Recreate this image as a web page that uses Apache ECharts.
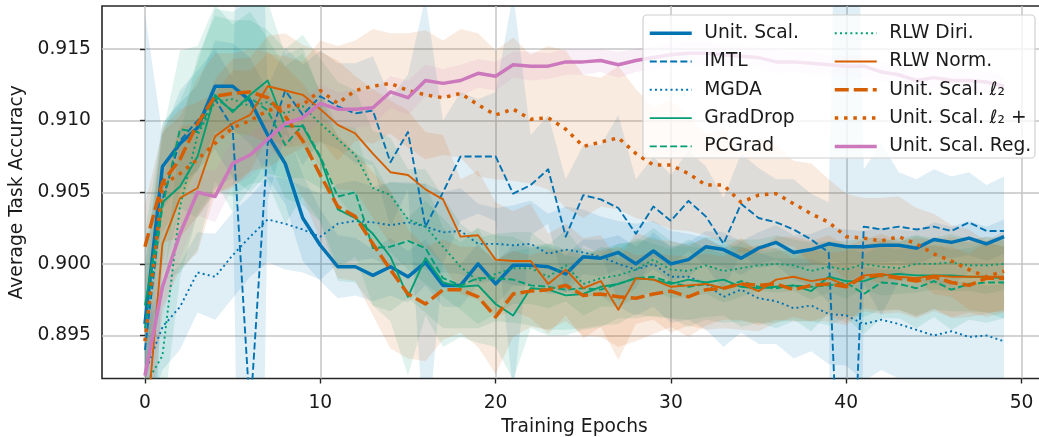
<!DOCTYPE html>
<html>
<head>
<meta charset="utf-8">
<script src="https://cdn.jsdelivr.net/npm/echarts@6/dist/echarts.min.js"></script>
<style>
  html, body { margin: 0; padding: 0; background: #ffffff; }
  #chart { width: 1039px; height: 437px; }
</style>
</head>
<body>
<div id="chart"></div>
<script>
// Training epochs (x) and axis ticks
const epochs = [0,1,2,3,4,5,6,7,8,9,10,11,12,13,14,15,16,17,18,19,20,21,22,23,24,25,26,27,28,29,30,31,32,33,34,35,36,37,38,39,40,41,42,43,44,45,46,47,48,49];
const xTicks = [0, 10, 20, 30, 40, 50];
const yTicks = [0.895, 0.900, 0.905, 0.910, 0.915];

// Mean average task accuracy per method
const unitScal = [0.8958,0.9068,0.9084,0.9095,0.9124,0.9124,0.9114,0.9090,0.9070,0.9032,0.9013,0.8998,0.8998,0.8992,0.8998,0.8991,0.9001,0.8985,0.8985,0.9000,0.8986,0.8999,0.8999,0.8998,0.8993,0.9005,0.9004,0.9008,0.9000,0.9009,0.9000,0.9003,0.9012,0.9010,0.9004,0.9011,0.9015,0.9008,0.9010,0.9014,0.9012,0.9012,0.9013,0.9013,0.9011,0.9017,0.9015,0.9018,0.9014,0.9019];
const imtl = [0.8940,0.9045,0.9086,0.9100,0.9115,0.9095,0.8895,0.9084,0.9121,0.9104,0.9117,0.9110,0.9105,0.9107,0.9071,0.9092,0.9026,0.9050,0.9075,0.9075,0.9075,0.9049,0.9055,0.9066,0.9019,0.9048,0.9045,0.9039,0.9021,0.9040,0.9030,0.9044,0.9033,0.9014,0.9042,0.9032,0.9029,0.9024,0.9017,0.9008,0.8725,0.9026,0.9024,0.9026,0.9024,0.9026,0.9023,0.9029,0.9023,0.9023];
const mgda = [0.8924,0.8956,0.8970,0.8994,0.8991,0.9006,0.9019,0.9031,0.9028,0.9024,0.9019,0.9028,0.9030,0.9029,0.9027,0.9029,0.9026,0.9022,0.9023,0.9014,0.9014,0.9013,0.9014,0.9007,0.9010,0.9008,0.9005,0.9000,0.8996,0.9000,0.8991,0.8991,0.8986,0.8977,0.8982,0.8976,0.8974,0.8969,0.8971,0.8965,0.8964,0.8958,0.8961,0.8958,0.8954,0.8950,0.8953,0.8949,0.8950,0.8946];
const gradDrop = [0.8971,0.9043,0.9054,0.9075,0.9118,0.9106,0.9118,0.9128,0.9096,0.9096,0.9074,0.9038,0.9032,0.9021,0.9005,0.8977,0.9004,0.8987,0.8984,0.8985,0.8972,0.8964,0.8983,0.8982,0.8978,0.8979,0.8984,0.8986,0.8990,0.8989,0.8986,0.8989,0.8987,0.8989,0.8984,0.8983,0.8984,0.8985,0.8981,0.8991,0.8988,0.8988,0.8992,0.8993,0.8992,0.8992,0.8992,0.8991,0.8991,0.8990];
const pcGrad = [0.8955,0.9040,0.9094,0.9092,0.9116,0.9107,0.9116,0.9107,0.9083,0.9097,0.9075,0.9047,0.9050,0.9011,0.9012,0.9016,0.9011,0.8990,0.8985,0.8990,0.8990,0.8989,0.8985,0.8984,0.8982,0.8983,0.8982,0.8986,0.8990,0.8991,0.8987,0.8984,0.8986,0.8983,0.8988,0.8984,0.8983,0.8985,0.8984,0.8985,0.8987,0.8979,0.8987,0.8986,0.8983,0.8988,0.8982,0.8986,0.8987,0.8987];
const rlwDiri = [0.8915,0.8936,0.9040,0.9090,0.9113,0.9115,0.9110,0.9113,0.9105,0.9110,0.9098,0.9087,0.9076,0.9053,0.9048,0.9031,0.9026,0.9012,0.8998,0.8988,0.8993,0.8997,0.8997,0.8991,0.8999,0.8986,0.8990,0.8992,0.8996,0.9003,0.8996,0.8995,0.8999,0.8995,0.8997,0.8999,0.9000,0.8999,0.8995,0.8998,0.8996,0.9000,0.8998,0.8997,0.9000,0.9000,0.9001,0.8999,0.8999,0.9000];
const rlwNorm = [0.8875,0.9014,0.9046,0.9053,0.9089,0.9098,0.9104,0.9124,0.9121,0.9118,0.9108,0.9097,0.9091,0.9077,0.9064,0.9062,0.9052,0.9045,0.9019,0.9020,0.9003,0.9002,0.9002,0.8986,0.8996,0.8983,0.8988,0.8968,0.8990,0.8989,0.8984,0.8985,0.8986,0.8983,0.8986,0.8981,0.8989,0.8991,0.8988,0.8990,0.8985,0.8992,0.8993,0.8991,0.8990,0.8992,0.8991,0.8991,0.8991,0.8991];
const unitScalL2 = [0.9012,0.9057,0.9073,0.9098,0.9117,0.9119,0.9120,0.9116,0.9103,0.9086,0.9062,0.9040,0.9033,0.9014,0.8996,0.8979,0.8972,0.8982,0.8982,0.8977,0.8963,0.8979,0.8981,0.8982,0.8985,0.8978,0.8979,0.8977,0.8976,0.8979,0.8981,0.8977,0.8982,0.8983,0.8986,0.8985,0.8986,0.8982,0.8985,0.8986,0.8984,0.8991,0.8992,0.8990,0.8988,0.8991,0.8987,0.8985,0.8990,0.8990];
const unitScalL2Plus = [0.8946,0.9055,0.9063,0.9073,0.9084,0.9095,0.9100,0.9107,0.9110,0.9111,0.9121,0.9112,0.9121,0.9124,0.9126,0.9121,0.9118,0.9116,0.9119,0.9111,0.9104,0.9108,0.9101,0.9102,0.9094,0.9082,0.9085,0.9088,0.9077,0.9069,0.9069,0.9063,0.9055,0.9055,0.9043,0.9048,0.9049,0.9042,0.9035,0.9029,0.9019,0.9018,0.9016,0.9019,0.9014,0.9007,0.9002,0.8996,0.8991,0.8995];
const unitScalReg = [0.8922,0.8984,0.9021,0.9050,0.9047,0.9070,0.9076,0.9087,0.9098,0.9102,0.9112,0.9108,0.9108,0.9109,0.9120,0.9116,0.9128,0.9126,0.9128,0.9133,0.9131,0.9139,0.9138,0.9138,0.9141,0.9141,0.9142,0.9139,0.9142,0.9144,0.9146,0.9147,0.9147,0.9146,0.9145,0.9144,0.9141,0.9141,0.9140,0.9139,0.9138,0.9138,0.9134,0.9132,0.9128,0.9130,0.9128,0.9128,0.9127,0.9124];

// Standard deviation across runs (shaded band = mean +/- std)
const stdUnitScal = [0.0040,0.0030,0.0028,0.0030,0.0032,0.0030,0.0030,0.0030,0.0028,0.0030,0.0025,0.0022,0.0020,0.0018,0.0020,0.0018,0.0016,0.0015,0.0015,0.0014,0.0015,0.0014,0.0013,0.0014,0.0013,0.0012,0.0013,0.0012,0.0012,0.0013,0.0012,0.0012,0.0011,0.0012,0.0012,0.0011,0.0012,0.0012,0.0011,0.0012,0.0012,0.0011,0.0012,0.0011,0.0012,0.0012,0.0011,0.0012,0.0012,0.0012];
const stdImtl = [0.0235,0.0045,0.0035,0.0035,0.0035,0.0035,0.0600,0.0040,0.0030,0.0035,0.0032,0.0030,0.0035,0.0038,0.0045,0.0040,0.0160,0.0050,0.0045,0.0040,0.0045,0.0140,0.0035,0.0038,0.0040,0.0035,0.0038,0.0065,0.0038,0.0035,0.0032,0.0035,0.0035,0.0032,0.0035,0.0035,0.0030,0.0035,0.0032,0.0035,0.0900,0.0040,0.0060,0.0038,0.0035,0.0040,0.0038,0.0035,0.0032,0.0038];
const stdMgda = [0.0035,0.0030,0.0030,0.0028,0.0030,0.0030,0.0028,0.0030,0.0032,0.0030,0.0030,0.0028,0.0028,0.0025,0.0030,0.0028,0.0030,0.0028,0.0030,0.0028,0.0025,0.0028,0.0030,0.0028,0.0030,0.0030,0.0028,0.0030,0.0032,0.0030,0.0032,0.0030,0.0032,0.0035,0.0030,0.0032,0.0030,0.0035,0.0032,0.0035,0.0035,0.0040,0.0035,0.0038,0.0035,0.0040,0.0035,0.0038,0.0035,0.0040];
const stdGradDrop = [0.0050,0.0055,0.0060,0.0065,0.0060,0.0070,0.0065,0.0055,0.0050,0.0055,0.0045,0.0050,0.0045,0.0050,0.0045,0.0055,0.0040,0.0045,0.0035,0.0040,0.0030,0.0045,0.0028,0.0032,0.0028,0.0025,0.0028,0.0024,0.0028,0.0025,0.0024,0.0028,0.0024,0.0025,0.0028,0.0024,0.0025,0.0024,0.0028,0.0025,0.0024,0.0025,0.0024,0.0025,0.0028,0.0024,0.0025,0.0024,0.0025,0.0028];
const stdPcGrad = [0.0045,0.0050,0.0055,0.0060,0.0065,0.0060,0.0060,0.0050,0.0055,0.0050,0.0045,0.0050,0.0045,0.0040,0.0045,0.0040,0.0045,0.0035,0.0030,0.0035,0.0030,0.0030,0.0028,0.0030,0.0028,0.0028,0.0025,0.0028,0.0025,0.0028,0.0025,0.0028,0.0025,0.0024,0.0028,0.0025,0.0028,0.0025,0.0024,0.0028,0.0025,0.0028,0.0025,0.0024,0.0028,0.0025,0.0028,0.0025,0.0028,0.0025];
const stdRlwDiri = [0.0040,0.0045,0.0050,0.0055,0.0060,0.0055,0.0060,0.0050,0.0045,0.0050,0.0045,0.0040,0.0045,0.0040,0.0040,0.0035,0.0040,0.0035,0.0030,0.0030,0.0028,0.0025,0.0025,0.0022,0.0025,0.0022,0.0020,0.0022,0.0020,0.0022,0.0020,0.0018,0.0020,0.0022,0.0020,0.0018,0.0020,0.0018,0.0020,0.0018,0.0020,0.0018,0.0020,0.0018,0.0020,0.0018,0.0020,0.0018,0.0020,0.0018];
const stdRlwNorm = [0.0040,0.0045,0.0050,0.0045,0.0040,0.0045,0.0040,0.0035,0.0040,0.0035,0.0040,0.0045,0.0040,0.0045,0.0050,0.0045,0.0040,0.0045,0.0040,0.0045,0.0040,0.0035,0.0040,0.0035,0.0032,0.0035,0.0032,0.0035,0.0032,0.0028,0.0032,0.0028,0.0032,0.0028,0.0032,0.0028,0.0030,0.0028,0.0028,0.0030,0.0028,0.0025,0.0028,0.0025,0.0028,0.0025,0.0028,0.0025,0.0028,0.0025];
const stdUnitScalL2 = [0.0030,0.0035,0.0030,0.0032,0.0030,0.0028,0.0030,0.0032,0.0035,0.0040,0.0045,0.0050,0.0045,0.0050,0.0055,0.0045,0.0040,0.0035,0.0030,0.0035,0.0040,0.0030,0.0025,0.0028,0.0025,0.0028,0.0030,0.0035,0.0030,0.0028,0.0025,0.0028,0.0025,0.0022,0.0025,0.0028,0.0025,0.0022,0.0025,0.0022,0.0025,0.0022,0.0025,0.0022,0.0025,0.0022,0.0025,0.0022,0.0025,0.0022];
const stdUnitScalL2Plus = [0.0035,0.0040,0.0045,0.0040,0.0035,0.0040,0.0035,0.0040,0.0035,0.0030,0.0035,0.0040,0.0035,0.0040,0.0035,0.0040,0.0045,0.0040,0.0045,0.0050,0.0045,0.0050,0.0045,0.0050,0.0055,0.0050,0.0045,0.0050,0.0045,0.0040,0.0045,0.0040,0.0035,0.0040,0.0035,0.0040,0.0035,0.0030,0.0035,0.0030,0.0030,0.0028,0.0030,0.0028,0.0025,0.0028,0.0025,0.0028,0.0025,0.0028];
const stdUnitScalReg = [0.0030,0.0020,0.0018,0.0016,0.0018,0.0016,0.0015,0.0014,0.0015,0.0014,0.0013,0.0012,0.0013,0.0012,0.0011,0.0012,0.0011,0.0010,0.0011,0.0010,0.0010,0.0009,0.0010,0.0009,0.0009,0.0009,0.0008,0.0009,0.0008,0.0008,0.0008,0.0008,0.0008,0.0007,0.0008,0.0007,0.0008,0.0007,0.0008,0.0007,0.0007,0.0008,0.0007,0.0007,0.0008,0.0007,0.0007,0.0008,0.0007,0.0007];

// Palette and line styles
const BLUE = '#0173b2', GREEN = '#029e73', ORANGE = '#d55e00', PINK = '#cc78bc';
const THICK = 3.5, THIN = 1.9;
const DASH_THIN = [7, 3.2], DOT_THIN = [2, 3.2], DASH_THICK = [14, 5], DOT_THICK = [3.5, 5.8];

const methods = [
  { name: 'Unit. Scal.',      mean: unitScal,       std: stdUnitScal,       color: BLUE,   width: THICK, type: 'solid' },
  { name: 'IMTL',             mean: imtl,           std: stdImtl,           color: BLUE,   width: THIN,  type: DASH_THIN },
  { name: 'MGDA',             mean: mgda,           std: stdMgda,           color: BLUE,   width: THIN,  type: DOT_THIN },
  { name: 'GradDrop',         mean: gradDrop,       std: stdGradDrop,       color: GREEN,  width: THIN,  type: 'solid' },
  { name: 'PCGrad',           mean: pcGrad,         std: stdPcGrad,         color: GREEN,  width: THIN,  type: DASH_THIN },
  { name: 'RLW Diri.',        mean: rlwDiri,        std: stdRlwDiri,        color: GREEN,  width: THIN,  type: DOT_THIN },
  { name: 'RLW Norm.',        mean: rlwNorm,        std: stdRlwNorm,        color: ORANGE, width: THIN,  type: 'solid' },
  { name: 'Unit. Scal. ℓ₂',   mean: unitScalL2,     std: stdUnitScalL2,     color: ORANGE, width: THICK, type: DASH_THICK },
  { name: 'Unit. Scal. ℓ₂ +', mean: unitScalL2Plus, std: stdUnitScalL2Plus, color: ORANGE, width: THICK, type: DOT_THICK },
  { name: 'Unit. Scal. Reg.', mean: unitScalReg,    std: stdUnitScalReg,    color: PINK,   width: THICK, type: 'solid' }
];

const FONT = 'DejaVu Sans';
const FS = 18.7;
const series = [];

// Shaded std bands: one polygon per method (upper edge forward, lower edge back)
methods.forEach((m, i) => {
  const lo = epochs.map((e, j) => m.mean[j] - m.std[j]);
  const hi = epochs.map((e, j) => m.mean[j] + m.std[j]);
  series.push({
    type: 'custom', name: '__band' + i, silent: true, z: 1, clip: true,
    data: epochs.map((e, j) => [e, lo[j], hi[j]]),
    encode: { x: 0, y: [1, 2] },
    renderItem: (params, api) => {
      if (params.dataIndex !== 0) return null;
      const upper = epochs.map((e, j) => api.coord([e, hi[j]]));
      const lower = epochs.map((e, j) => api.coord([e, lo[j]])).reverse();
      return {
        type: 'polygon', silent: true,
        shape: { points: upper.concat(lower) },
        style: { fill: m.color, opacity: 0.12 }
      };
    }
  });
});

// Mean curves
methods.forEach((m) => {
  series.push({
    type: 'line', name: m.name, z: 3, symbol: 'none', showSymbol: false,
    itemStyle: { color: m.color },
    lineStyle: { color: m.color, width: m.width, type: m.type, cap: 'butt', join: 'round' },
    data: epochs.map((e, j) => [e, m.mean[j]])
  });
});

const legendCommon = {
  orient: 'vertical', top: 23.7, padding: 0, itemWidth: 42, itemHeight: 14, itemGap: 9.3,
  selectedMode: false, z: 20,
  itemStyle: { opacity: 0 },
  lineStyle: { width: 'inherit' },
  textStyle: { fontFamily: FONT, fontSize: FS, color: '#1a1a1a', lineHeight: 18, padding: [0, 0, 0, 7.5] }
};

const chart = echarts.init(document.getElementById('chart'), null, { renderer: 'canvas' });
chart.setOption({
  animation: false,
  backgroundColor: '#ffffff',
  textStyle: { fontFamily: FONT },
  grid: {
    left: 102, top: 6, width: 945, height: 372.5,
    outerBoundsMode: 'none', containLabel: false,
    show: true, borderColor: '#262626', borderWidth: 1.6, backgroundColor: 'transparent'
  },
  xAxis: {
    type: 'value', min: -2.45, max: 51.45,
    name: 'Training Epochs', nameLocation: 'middle', nameGap: 39,
    nameTextStyle: { fontFamily: FONT, fontSize: FS, color: '#1a1a1a' },
    axisLine: { show: false },
    axisTick: { show: true, customValues: xTicks, length: 5, lineStyle: { color: '#262626', width: 1.4 } },
    axisLabel: { customValues: xTicks, fontFamily: FONT, fontSize: FS, color: '#1a1a1a', margin: 15.5 },
    splitLine: { show: true, lineStyle: { color: '#c4c4c4', width: 1.5 } }
  },
  yAxis: {
    type: 'value', min: 0.892, max: 0.918,
    name: 'Average Task Accuracy', nameLocation: 'middle', nameGap: 71, nameRotate: 90,
    nameTextStyle: { fontFamily: FONT, fontSize: FS, color: '#1a1a1a' },
    axisLine: { show: false },
    axisTick: { show: true, customValues: yTicks, length: 5, lineStyle: { color: '#262626', width: 1.4 } },
    axisLabel: { customValues: yTicks, fontFamily: FONT, fontSize: FS, color: '#1a1a1a', margin: 11,
                 formatter: (v) => v.toFixed(3) },
    splitLine: { show: true, lineStyle: { color: '#c4c4c4', width: 1.5 } }
  },
  graphic: [{
    type: 'rect', z: 10, silent: true,
    shape: { x: 643, y: 15, width: 392, height: 143, r: 4 },
    style: { fill: 'rgba(255,255,255,0.8)', stroke: '#d0d0d0', lineWidth: 1.2 }
  }],
  legend: [
    Object.assign({}, legendCommon, { left: 648, data: methods.slice(0, 5).map(m => m.name) }),
    Object.assign({}, legendCommon, { left: 833, data: methods.slice(5).map(m => m.name) })
  ],
  series: series
});
</script>
</body>
</html>
